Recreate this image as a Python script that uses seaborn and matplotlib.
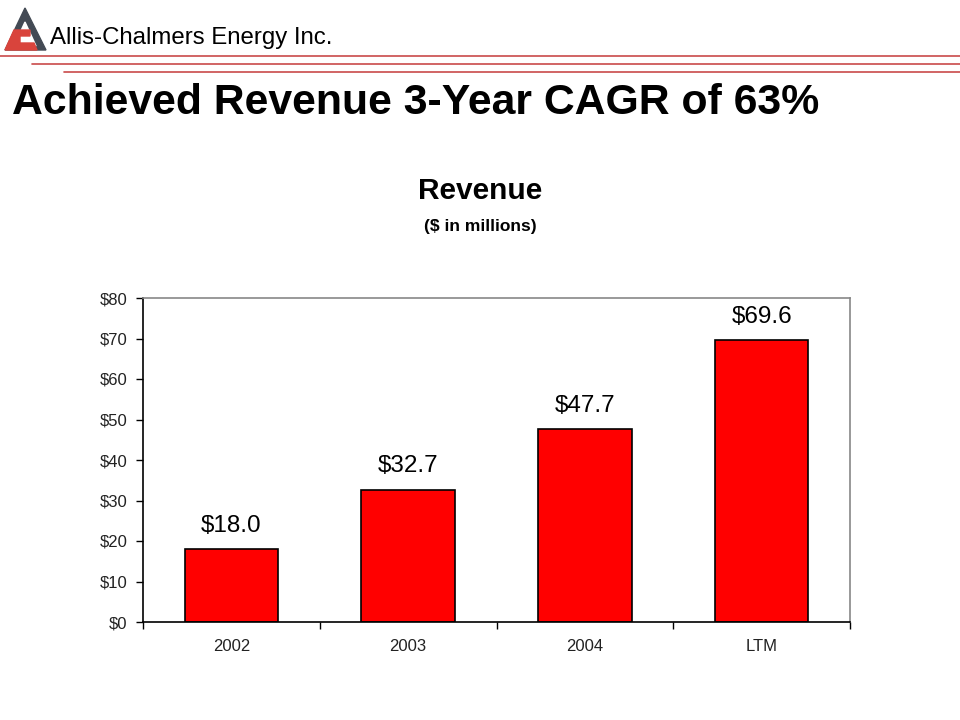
import matplotlib
matplotlib.use("Agg")
import matplotlib.pyplot as plt
from matplotlib.patches import Polygon
from matplotlib.lines import Line2D
import seaborn as sns
import pandas as pd

periods = ["2002", "2003", "2004", "LTM"]
revenue = [18.0, 32.7, 47.7, 69.6]
value_labels = ["$18.0", "$32.7", "$47.7", "$69.6"]
y_ticks = [0, 10, 20, 30, 40, 50, 60, 70, 80]

sns.set_style("white")
plt.rcParams["font.family"] = ["Liberation Sans", "DejaVu Sans"]
plt.rcParams["text.color"] = "black"

df = pd.DataFrame({"period": periods, "revenue": revenue})

fig = plt.figure(figsize=(9.6, 7.2), dpi=100)

# header: logo, company name, red rules
W, H = 960.0, 720.0
def fx(x):
    return x / W
def fy(y):
    return 1 - y / H

fig.patches.append(Polygon([(fx(25), fy(8)), (fx(46), fy(50)), (fx(5), fy(50))],
                           closed=True, transform=fig.transFigure, color="#434a54"))
fig.patches.append(Polygon([(fx(25), fy(22)), (fx(36), fy(46)), (fx(14), fy(46))],
                           closed=True, transform=fig.transFigure, color="white"))
fig.patches.append(Polygon([(fx(14), fy(30)), (fx(30), fy(30)), (fx(30), fy(36)), (fx(20), fy(36)),
                            (fx(20), fy(43)), (fx(34), fy(43)), (fx(37), fy(50)), (fx(5), fy(50))],
                           closed=True, transform=fig.transFigure, color="#d9443c"))
fig.text(fx(50), fy(38), "Allis-Chalmers Energy Inc.", fontsize=17.3, color="black",
         ha="left", va="center")
for x0, y0 in [(0, 56), (32, 64), (64, 72)]:
    fig.add_artist(Line2D([fx(x0), 1], [fy(y0), fy(y0)], transform=fig.transFigure,
                          color="#c94a4a", lw=1.2))

fig.text(fx(12), fy(103), "Achieved Revenue 3-Year CAGR of 63%", fontsize=30.8,
         fontweight="bold", ha="left", va="center", color="black")
fig.text(fx(480), fy(191), "Revenue", fontsize=21.5, fontweight="bold",
         ha="center", va="center", color="black")
fig.text(fx(480), fy(227), "($ in millions)", fontsize=12.5, fontweight="bold",
         ha="center", va="center", color="black")

ax = fig.add_axes([143 / W, 1 - 622 / H, (850 - 143) / W, (622 - 298) / H])
sns.barplot(data=df, x="period", y="revenue", ax=ax, color="#ff0000",
            edgecolor="black", linewidth=1.2, width=0.53, saturation=1)

for i, (v, lab) in enumerate(zip(revenue, value_labels)):
    ax.text(i, v + 3.0, lab, ha="center", va="bottom", fontsize=17.5, color="black")

ax.set_ylim(0, 80)
ax.set_xlim(-0.5, 3.5)
ax.set_yticks(y_ticks)
ax.set_yticklabels(["$%d" % t for t in y_ticks], fontsize=12, color="#222222")
ax.set_xticks(range(4))
ax.set_xticklabels(periods, fontsize=12, color="#222222")
ax.set_xlabel("")
ax.set_ylabel("")
ax.tick_params(axis="x", length=0, pad=12.5)
ax.tick_params(axis="y", length=5, width=1, color="black", left=True, pad=6)
# category boundary ticks on x axis
ax.set_xticks([-0.5, 0.5, 1.5, 2.5, 3.5], minor=True)
ax.tick_params(axis="x", which="minor", length=5, width=1, color="black", bottom=True)

for s in ["left", "bottom"]:
    ax.spines[s].set_color("black")
    ax.spines[s].set_linewidth(1.2)
for s in ["top", "right"]:
    ax.spines[s].set_color("#888888")
    ax.spines[s].set_linewidth(1.2)
    ax.spines[s].set_visible(True)

fig.savefig("out.png", dpi=100)
